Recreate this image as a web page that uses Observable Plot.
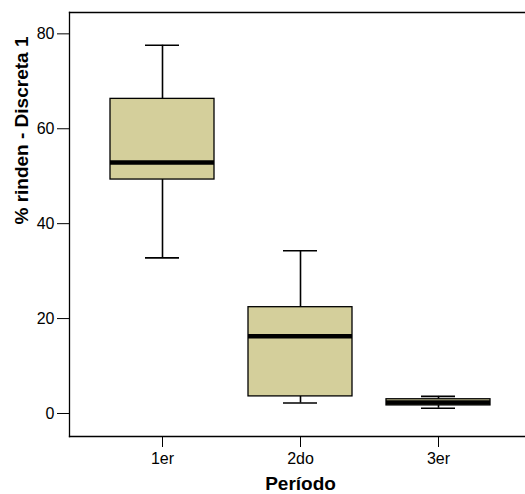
<!DOCTYPE html>
<html>
<head>
<meta charset="utf-8">
<script src="https://cdn.jsdelivr.net/npm/d3@7"></script>
<script src="https://cdn.jsdelivr.net/npm/@observablehq/plot@0.6"></script>
<style>
  html, body { margin: 0; padding: 0; background: #fff; }
</style>
</head>
<body>
<div id="chart"></div>
<script>
const periods = ["1er", "2do", "3er"];
const whiskerLow = [32.8, 2.2, 1.1];
const q1 = [49.3, 3.6, 1.7];
const median = [52.9, 16.3, 2.3];
const q3 = [66.3, 22.4, 3.0];
const whiskerHigh = [77.6, 34.3, 3.6];
const yTicks = [0, 20, 40, 60, 80];
const yLabel = "% rinden - Discreta 1";
const xLabel = "Período";

const data = periods.map((p, i) => ({
  period: p, low: whiskerLow[i], q1: q1[i], median: median[i], q3: q3[i], high: whiskerHigh[i]
}));

const boxInset = 17;
const capInset = 52;

const chart = Plot.plot({
  width: 525,
  height: 494,
  marginTop: 12,
  marginLeft: 69,
  marginRight: 0,
  marginBottom: 58,
  style: { fontFamily: "'Liberation Sans', Arial, sans-serif", background: "#fff", color: "#000" },
  x: { type: "band", domain: periods, range: [92.3, 508.7], padding: 0 },
  y: { domain: [-4.85, 84.5] },
  marks: [
    Plot.frame({ anchor: "left", stroke: "#000", strokeWidth: 1.3 }),
    Plot.frame({ anchor: "top", stroke: "#000", strokeWidth: 1.3 }),
    Plot.frame({ anchor: "bottom", stroke: "#000", strokeWidth: 1.3 }),
    Plot.ruleX(data, { x: "period", y1: "low", y2: "q1", stroke: "#000", strokeWidth: 1.6 }),
    Plot.ruleX(data, { x: "period", y1: "q3", y2: "high", stroke: "#000", strokeWidth: 1.6 }),
    Plot.tickY(data, { x: "period", y: "low", stroke: "#000", strokeWidth: 1.6, insetLeft: capInset, insetRight: capInset }),
    Plot.tickY(data, { x: "period", y: "high", stroke: "#000", strokeWidth: 1.6, insetLeft: capInset, insetRight: capInset }),
    Plot.barY(data, { x: "period", y1: "q1", y2: "q3", fill: "#d4cf9b", stroke: "#000", strokeWidth: 1.3, insetLeft: boxInset, insetRight: boxInset }),
    Plot.tickY(data, { x: "period", y: "median", stroke: "#000", strokeWidth: 4.5, insetLeft: boxInset, insetRight: boxInset }),
    Plot.axisY({ ticks: yTicks, tickSize: 12, tickPadding: 3, fontSize: 16, label: null, stroke: "#000" }),
    Plot.axisX({ tickSize: 11, tickPadding: 5, fontSize: 16, label: null, stroke: "#000" }),
    Plot.text([yLabel], { frameAnchor: "left", lineAnchor: "middle", rotate: -90, dx: -48, fontSize: 19, fontWeight: "bold", fill: "#000" }),
    Plot.text([xLabel], { frameAnchor: "bottom", lineAnchor: "middle", dx: 3, dy: 47, fontSize: 19, fontWeight: "bold", fill: "#000" })
  ]
});
document.getElementById("chart").appendChild(chart);
</script>
</body>
</html>
